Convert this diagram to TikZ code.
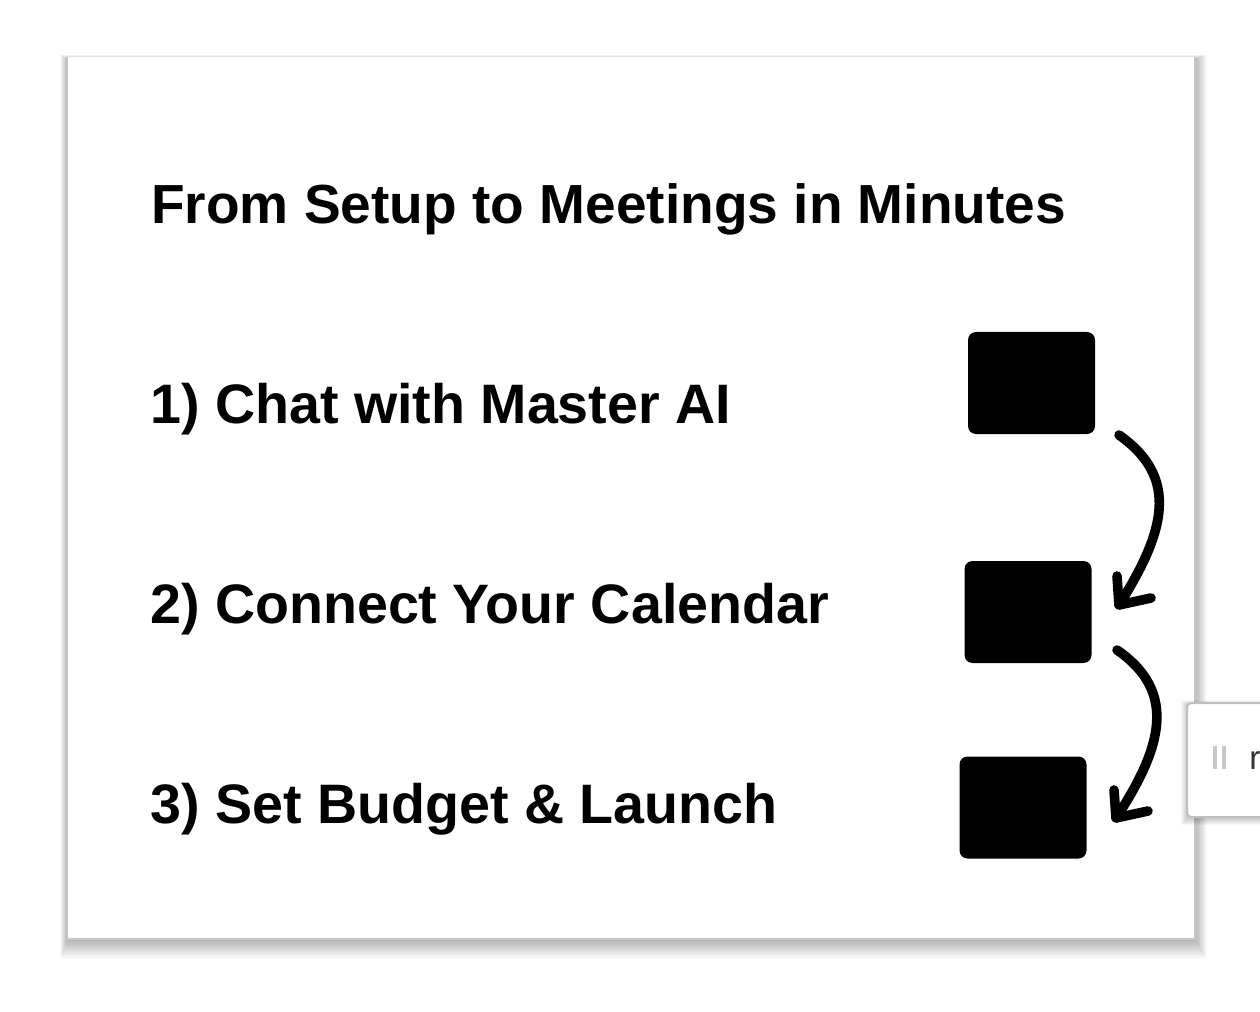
\documentclass[tikz,border=0pt]{standalone}
\usepackage{fontspec}
\setmainfont{Liberation Sans}
\usetikzlibrary{positioning}
\tikzset{
  steplabel/.style={anchor=base west,inner sep=0pt,font=\fontsize{41.7}{48}\selectfont\bfseries},
  stepbox/.style={fill=black,rounded corners=6pt,minimum width=95.25pt,minimum height=76.5pt,inner sep=0pt},
  flow/.style={line width=7.2pt,line cap=round,line join=round},
}
\begin{document}
\begin{tikzpicture}[x=0.75pt,y=-0.75pt]
\clip (0,0) rectangle (1260,1012);
\fill[white] (0,0) rectangle (1260,1012);
% card with soft shadow
\foreach \i in {1,...,16} {
  \fill[black,opacity=0.02] (68-\i/2,57-\i/3+3) rectangle (1194+\i*0.8,938+\i*1.3);
}
\fill[black!22] (66.5,57) rectangle (1195.5,939.5);
\fill[white] (68,57) rectangle (1194,938);
% step labels
\node[steplabel,font=\fontsize{41.3}{48}\selectfont\bfseries] (title) at (151,224) {From Setup to Meetings in Minutes};
\node[steplabel] (s1) at (150,424) {1) Chat with Master AI};
\node[steplabel] (s2) at (150,623) {2) Connect Your Calendar};
\node[steplabel] (s3) at (150,823) {3) Set Budget \& Launch};
% icons
\node[stepbox] (b1) at (1031.5,383) {};
\node[stepbox] (b2) at (1028,612) {};
\node[stepbox] (b3) at (1023,807.5) {};
% hand drawn arrows
\coordinate (a1s) at (1119,435);
\coordinate (a1e) at (1119,605);
\coordinate (a2s) at (1117,650);
\coordinate (a2e) at (1116,818);
\draw[flow] (a1s) .. controls (1180,478) and (1165,532) .. (a1e);
\draw[flow] (1117,576) -- (a1e) -- (1151,598);
\draw[flow] (a2s) .. controls (1178,692) and (1162,748) .. (a2e);
\draw[flow] (1114,790) -- (a2e) -- (1148,811);
% popup at the right edge
\foreach \i in {1,...,6} {
  \fill[black,opacity=0.03] (1187-\i,703-\i+3) rectangle (1290,817+\i+2);
}
\draw[black!25,fill=white,line width=1.5pt,rounded corners=3pt] (1187,703) rectangle (1290,817);
\draw[black!22,line width=3pt] (1215,746) -- (1215,769);
\draw[black!22,line width=3pt] (1224,746) -- (1224,769);
\node[anchor=base west,inner sep=0pt,text=black!80,font=\fontsize{25}{30}\selectfont] (pop) at (1249,769) {r};
\end{tikzpicture}
\end{document}
